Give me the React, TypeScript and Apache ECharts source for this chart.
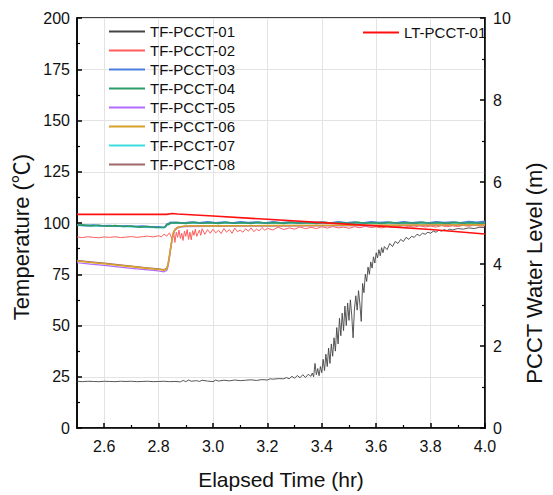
import React, { useEffect, useRef } from "react";
import * as echarts from "echarts";

const seriesNames = ["TF-PCCT-01", "TF-PCCT-02", "TF-PCCT-03", "TF-PCCT-04", "TF-PCCT-05", "TF-PCCT-06", "TF-PCCT-07", "TF-PCCT-08"];
const levelName = "LT-PCCT-01";

const xMajorTicks = [2.6, 2.8, 3.0, 3.2, 3.4, 3.6, 3.8, 4.0];
const xMinorTicks = [2.7, 2.9, 3.1, 3.3, 3.5, 3.7, 3.9];

const tf01 = [
  [2.50, 22.8], [2.52, 22.6], [2.54, 22.8], [2.56, 22.7], [2.58, 22.6], [2.60, 22.8], [2.62, 22.7], [2.64, 22.6],
  [2.66, 22.8], [2.68, 22.7], [2.70, 22.8], [2.72, 22.6], [2.74, 22.7], [2.76, 22.8], [2.78, 22.6], [2.80, 22.7],
  [2.82, 22.8], [2.84, 22.6], [2.86, 22.7], [2.88, 22.5], [2.89, 23.2], [2.90, 22.6], [2.91, 23.4], [2.92, 22.8],
  [2.94, 23.1], [2.95, 22.7], [2.96, 23.3], [2.98, 22.9], [3.00, 22.6], [3.01, 23.4], [3.02, 22.9], [3.04, 23.3],
  [3.06, 23.0], [3.08, 23.4], [3.10, 23.1], [3.12, 23.3], [3.14, 23.5], [3.16, 23.2], [3.18, 23.6], [3.20, 23.4],
  [3.21, 24.0], [3.22, 23.8], [3.24, 24.1], [3.26, 24.0], [3.27, 24.6], [3.28, 24.0], [3.29, 25.2], [3.30, 24.3],
  [3.31, 25.6], [3.32, 24.5], [3.33, 26.0], [3.34, 24.6], [3.35, 26.2], [3.36, 25.2], [3.365, 26.8], [3.37, 25.0],
  [3.375, 31.5], [3.38, 26.0], [3.385, 29.0], [3.39, 25.5], [3.395, 30.0], [3.40, 27.0], [3.405, 33.5], [3.41, 28.0],
  [3.415, 36.0], [3.42, 30.0], [3.425, 39.0], [3.43, 31.5], [3.435, 41.0], [3.44, 35.0], [3.445, 44.0], [3.45, 37.5],
  [3.455, 49.0], [3.46, 41.0], [3.465, 53.5], [3.47, 45.0], [3.475, 56.0], [3.48, 47.5], [3.485, 59.5], [3.49, 50.0],
  [3.495, 61.0], [3.50, 52.5], [3.505, 62.5], [3.51, 55.0], [3.515, 44.0], [3.52, 58.0], [3.525, 64.5], [3.53, 57.5],
  [3.535, 67.0], [3.54, 60.5], [3.545, 52.0], [3.55, 70.5], [3.555, 66.0], [3.56, 75.0], [3.565, 71.5], [3.57, 78.5],
  [3.575, 75.0], [3.58, 81.0], [3.585, 78.0], [3.59, 83.5], [3.595, 80.5], [3.60, 85.5], [3.605, 83.0], [3.61, 87.0],
  [3.615, 84.0], [3.62, 88.0], [3.625, 85.5], [3.63, 88.5], [3.64, 87.0], [3.65, 90.0], [3.66, 88.5], [3.67, 91.0],
  [3.68, 90.0], [3.69, 92.0], [3.70, 91.0], [3.71, 93.0], [3.72, 92.0], [3.73, 93.5], [3.74, 93.0], [3.75, 94.5],
  [3.76, 93.8], [3.77, 95.0], [3.78, 94.5], [3.79, 95.5], [3.80, 95.0], [3.81, 96.0], [3.82, 95.5], [3.83, 96.5],
  [3.84, 96.0], [3.85, 96.8], [3.86, 96.3], [3.87, 97.0], [3.88, 96.6], [3.90, 97.3], [3.92, 97.0], [3.94, 97.6],
  [3.96, 97.3], [3.98, 97.9], [4.00, 97.8],
];

const tf02 = [
  [2.50, 93.2], [2.52, 92.9], [2.54, 93.3], [2.56, 93.0], [2.58, 92.8], [2.60, 93.2], [2.62, 93.0], [2.64, 93.3],
  [2.66, 92.9], [2.68, 93.1], [2.70, 93.4], [2.72, 93.0], [2.74, 93.3], [2.76, 93.6], [2.78, 93.2], [2.80, 93.8],
  [2.81, 93.3], [2.82, 94.5], [2.83, 93.6], [2.84, 95.2], [2.85, 92.0], [2.855, 96.0], [2.86, 90.5], [2.865, 95.5],
  [2.87, 93.0], [2.875, 96.5], [2.88, 92.5], [2.885, 95.0], [2.89, 91.5], [2.895, 96.0], [2.90, 93.5], [2.905, 96.8],
  [2.91, 92.0], [2.915, 95.5], [2.92, 91.8], [2.925, 96.2], [2.93, 94.0], [2.935, 97.0], [2.94, 93.5], [2.95, 96.5],
  [2.955, 94.0], [2.96, 97.2], [2.97, 94.5], [2.98, 96.8], [2.99, 95.0], [3.00, 97.0], [3.01, 95.2], [3.02, 96.5],
  [3.03, 94.8], [3.04, 97.3], [3.05, 95.5], [3.06, 96.8], [3.07, 95.0], [3.08, 97.5], [3.09, 95.8], [3.10, 96.5],
  [3.11, 95.5], [3.12, 97.2], [3.13, 96.0], [3.14, 97.6], [3.15, 95.8], [3.16, 97.0], [3.17, 96.2], [3.18, 97.8],
  [3.19, 96.5], [3.20, 97.4], [3.22, 96.6], [3.24, 98.0], [3.26, 96.8], [3.28, 97.6], [3.30, 97.0], [3.32, 98.1],
  [3.34, 97.2], [3.36, 97.9], [3.38, 97.3], [3.40, 98.2], [3.42, 97.5], [3.44, 98.3], [3.46, 97.6], [3.48, 98.0],
  [3.50, 97.4], [3.52, 98.2], [3.54, 97.7], [3.56, 98.4], [3.58, 97.8], [3.60, 98.1], [3.62, 97.6], [3.64, 98.3],
  [3.66, 97.9], [3.68, 98.5], [3.70, 97.8], [3.72, 98.4], [3.74, 98.0], [3.76, 98.6], [3.78, 98.1], [3.80, 98.5],
  [3.82, 98.0], [3.84, 98.7], [3.86, 98.2], [3.88, 98.6], [3.90, 98.3], [3.92, 98.8], [3.94, 98.4], [3.96, 98.9],
  [3.98, 98.5], [4.00, 98.6],
];

const tf03 = [
  [2.50, 99.0], [2.53, 98.7], [2.56, 99.0], [2.59, 98.6], [2.62, 98.8], [2.65, 98.4], [2.68, 98.6], [2.71, 98.3],
  [2.74, 98.5], [2.77, 98.1], [2.80, 98.2], [2.82, 97.8], [2.825, 98.4], [2.83, 99.4], [2.835, 99.1], [2.84, 100.2],
  [2.86, 100.4], [2.89, 100.0], [2.92, 100.5], [2.95, 100.1], [2.98, 100.6], [3.01, 100.1], [3.04, 100.5], [3.07, 100.0],
  [3.10, 100.6], [3.13, 100.2], [3.16, 100.5], [3.19, 100.0], [3.22, 100.6], [3.25, 100.1], [3.28, 100.5], [3.31, 100.0],
  [3.34, 100.6], [3.37, 100.2], [3.40, 100.5], [3.43, 100.0], [3.46, 100.6], [3.49, 100.1], [3.52, 100.5], [3.55, 100.0],
  [3.58, 100.6], [3.61, 100.2], [3.64, 100.5], [3.67, 100.0], [3.70, 100.6], [3.73, 100.1], [3.76, 100.5], [3.79, 100.0],
  [3.82, 100.6], [3.85, 100.2], [3.88, 100.5], [3.91, 100.1], [3.94, 100.7], [3.97, 100.3], [4.00, 100.8],
];

const tf04 = [
  [2.50, 98.8], [2.52, 99.1], [2.55, 98.6], [2.58, 98.9], [2.61, 98.4], [2.64, 98.7], [2.67, 98.3], [2.70, 98.5],
  [2.73, 98.0], [2.76, 98.3], [2.79, 97.8], [2.82, 97.9], [2.826, 98.2], [2.832, 99.6], [2.838, 99.3], [2.845, 100.0],
  [2.87, 100.2], [2.90, 99.8], [2.93, 100.3], [2.96, 99.9], [2.99, 100.2], [3.02, 99.8], [3.05, 100.3], [3.08, 99.9],
  [3.11, 100.2], [3.14, 99.8], [3.17, 100.3], [3.20, 99.9], [3.23, 100.2], [3.26, 99.8], [3.29, 100.3], [3.32, 99.9],
  [3.35, 100.2], [3.38, 99.8], [3.41, 100.3], [3.44, 99.9], [3.47, 100.2], [3.50, 99.8], [3.53, 100.3], [3.56, 99.9],
  [3.59, 100.2], [3.62, 99.8], [3.65, 100.3], [3.68, 99.9], [3.71, 100.2], [3.74, 99.8], [3.77, 100.3], [3.80, 99.9],
  [3.83, 100.2], [3.86, 99.8], [3.89, 100.3], [3.92, 99.9], [3.95, 100.2], [3.98, 99.9], [4.00, 100.1],
];

const tf05 = [
  [2.50, 80.6], [2.55, 79.9], [2.60, 79.3], [2.65, 78.6], [2.70, 77.9], [2.75, 77.3], [2.80, 76.6], [2.82, 76.2],
  [2.83, 76.8], [2.835, 79.0], [2.84, 83.0], [2.845, 87.5], [2.85, 91.8], [2.855, 94.8], [2.86, 96.4], [2.87, 97.5],
  [2.88, 98.0], [2.90, 98.2], [3.00, 98.4], [3.20, 98.5], [3.40, 98.6], [3.60, 98.7], [3.80, 98.8], [4.00, 98.9],
];

const tf06 = [
  [2.50, 81.5], [2.55, 80.7], [2.60, 80.1], [2.65, 79.4], [2.70, 78.7], [2.75, 78.0], [2.80, 77.3], [2.82, 77.0],
  [2.83, 77.6], [2.835, 80.0], [2.84, 84.0], [2.845, 88.5], [2.85, 92.5], [2.855, 95.3], [2.86, 96.8], [2.87, 97.8],
  [2.88, 98.2], [2.90, 98.5], [3.00, 98.6], [3.20, 98.7], [3.40, 98.8], [3.60, 98.9], [3.80, 99.0], [4.00, 99.1],
];

const tf07 = [
  [2.50, 98.9], [2.55, 98.7], [2.60, 98.5], [2.65, 98.4], [2.70, 98.2], [2.75, 98.0], [2.80, 97.8], [2.82, 97.7],
  [2.83, 99.0], [2.84, 99.9], [2.86, 100.1], [2.95, 100.0], [3.10, 100.1], [3.30, 100.0], [3.50, 100.1], [3.70, 100.0],
  [3.90, 100.1], [4.00, 100.0],
];

const tf08 = [
  [2.50, 81.8], [2.55, 81.1], [2.60, 80.4], [2.65, 79.7], [2.70, 79.0], [2.75, 78.3], [2.80, 77.6], [2.82, 77.3],
  [2.83, 77.9], [2.835, 80.3], [2.84, 84.4], [2.845, 88.8], [2.85, 92.8], [2.855, 95.5], [2.86, 97.0], [2.87, 97.9],
  [2.88, 98.3], [2.90, 98.5], [3.00, 98.6], [3.20, 98.7], [3.40, 98.8], [3.60, 98.9], [3.80, 99.0], [4.00, 99.1],
];

const lt01 = [
  [2.50, 5.21], [2.60, 5.21], [2.70, 5.21], [2.80, 5.21], [2.83, 5.21], [2.85, 5.23], [2.87, 5.22], [3.00, 5.17],
  [3.20, 5.09], [3.40, 5.01], [3.60, 4.93], [3.80, 4.84], [4.00, 4.73],
];

const colors: Record<string, string> = {
  "TF-PCCT-01": "#444444",
  "TF-PCCT-02": "#ff5c5c",
  "TF-PCCT-03": "#4a7fe0",
  "TF-PCCT-04": "#2f9a6a",
  "TF-PCCT-05": "#b36bff",
  "TF-PCCT-06": "#d6a22a",
  "TF-PCCT-07": "#3fdede",
  "TF-PCCT-08": "#a06868",
  "LT-PCCT-01": "#ff1010",
};
const widths: Record<string, number> = {
  "TF-PCCT-01": 0.9, "TF-PCCT-02": 1, "TF-PCCT-03": 1.6, "TF-PCCT-04": 1.6,
  "TF-PCCT-05": 1.2, "TF-PCCT-06": 1.6, "TF-PCCT-07": 1.6, "TF-PCCT-08": 1.2, "LT-PCCT-01": 1.6,
};

const FONT = "'Liberation Sans', Arial, 'Noto Sans CJK SC', sans-serif";

export default function App() {
  const ref = useRef<HTMLDivElement>(null);
  useEffect(() => {
    if (!ref.current) return;
    const chart = echarts.init(ref.current, undefined, { renderer: "svg" });
    const mk = (name: string, data: number[][], yAxisIndex = 0) => ({
      name,
      type: "line",
      data,
      yAxisIndex,
      xAxisIndex: 0,
      symbol: "none",
      showSymbol: false,
      lineStyle: { width: widths[name], color: colors[name] },
      itemStyle: { color: colors[name] },
      emphasis: { disabled: true },
    });
    const axisCommon = {
      axisLine: { show: true, lineStyle: { color: "#000", width: 1.5 } },
      axisTick: { show: true, inside: true, length: 5, lineStyle: { color: "#000", width: 1.5 } },
      minorTick: { show: true, splitNumber: 2, length: 3, lineStyle: { color: "#000", width: 1.2 } },
      axisLabel: { color: "#111", fontSize: 16, fontFamily: FONT },
    };
    const legendCommon = {
      orient: "vertical",
      itemWidth: 36,
      itemHeight: 14,
      itemGap: 4,
      itemStyle: { opacity: 0, borderWidth: 0 },
      textStyle: { fontSize: 15, color: "#111", fontFamily: FONT },
    };
    chart.setOption({
      animation: false,
      backgroundColor: "#fff",
      textStyle: { fontFamily: FONT },
      grid: { left: 77, right: 60, top: 18, bottom: 61, show: true, borderColor: "#000", borderWidth: 1.5, backgroundColor: "transparent" },
      legend: [
        { ...legendCommon, data: seriesNames, left: 103, top: 19 },
        { ...legendCommon, data: [levelName], left: 357, top: 20 },
      ],
      xAxis: [
        {
          type: "value",
          min: 2.5,
          max: 4.0,
          position: "bottom",
          name: "Elapsed Time (hr)",
          nameLocation: "middle",
          nameGap: 41,
          nameTextStyle: { color: "#111", fontSize: 21, fontFamily: FONT },
          ...axisCommon,
          minorTick: { show: false },
          axisTick: { ...axisCommon.axisTick, customValues: xMajorTicks },
          axisLabel: { ...axisCommon.axisLabel, margin: 10, customValues: xMajorTicks, formatter: (v: number) => v.toFixed(1) },
          splitLine: { show: true, lineStyle: { color: "#e3e3e3", width: 1 } },
        },
        {
          type: "value",
          min: 2.5,
          max: 4.0,
          position: "bottom",
          axisLine: { show: false },
          axisLabel: { show: false },
          splitLine: { show: false },
          axisTick: { show: true, inside: true, length: 3, customValues: xMinorTicks, lineStyle: { color: "#000", width: 1.2 } },
        },
      ],
      yAxis: [
        {
          type: "value",
          min: 0,
          max: 200,
          interval: 25,
          position: "left",
          name: "Temperature (℃)",
          nameLocation: "middle",
          nameGap: 36,
          nameTextStyle: { color: "#111", fontSize: 22, fontFamily: FONT, padding: [0, 28, 0, 0] },
          ...axisCommon,
          axisLabel: { ...axisCommon.axisLabel, margin: 7 },
          splitLine: { show: true, lineStyle: { color: "#e3e3e3", width: 1 } },
        },
        {
          type: "value",
          min: 0,
          max: 10,
          interval: 2,
          position: "right",
          name: "PCCT Water Level (m)",
          nameLocation: "middle",
          nameGap: 38,
          nameTextStyle: { color: "#111", fontSize: 22, fontFamily: FONT, padding: [0, 100, 0, 0] },
          ...axisCommon,
          axisLabel: { ...axisCommon.axisLabel, margin: 8 },
          splitLine: { show: false },
        },
      ],
      series: [
        mk("TF-PCCT-01", tf01),
        mk("TF-PCCT-02", tf02),
        mk("TF-PCCT-07", tf07),
        mk("TF-PCCT-03", tf03),
        mk("TF-PCCT-04", tf04),
        mk("TF-PCCT-08", tf08),
        mk("TF-PCCT-05", tf05),
        mk("TF-PCCT-06", tf06),
        mk("LT-PCCT-01", lt01, 1),
      ],
    });
    return () => chart.dispose();
  }, []);
  return <div ref={ref} style={{ width: 553, height: 495, position: "absolute", left: 0, top: 0 }} />;
}
